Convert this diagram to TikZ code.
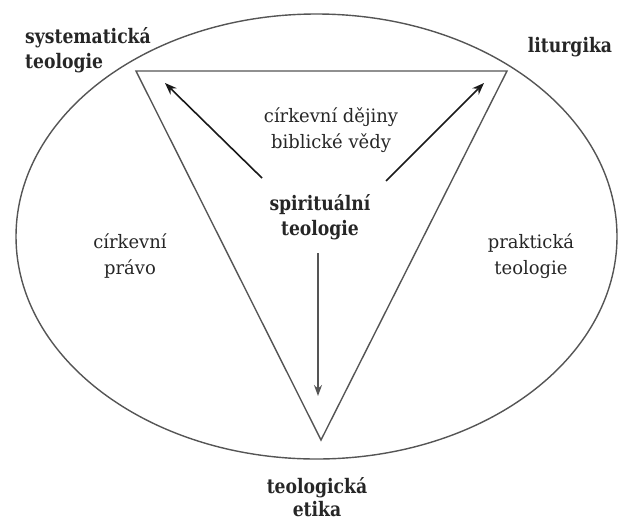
\documentclass[tikz,border=0pt]{standalone}
\usepackage{fontspec}
\setmainfont{DejaVu Serif}[FakeStretch=0.86]
\newfontfamily\regfont{DejaVu Serif}[FakeStretch=0.97]
\usetikzlibrary{arrows.meta}
\definecolor{lineg}{HTML}{555555}
\definecolor{txt}{HTML}{262626}
\tikzset{
  shapeline/.style={draw=lineg, line width=1.4pt},
  arr/.style={draw=black!90, line width=1.6pt, -{Stealth[length=12pt,width=9pt]}},
  lbl/.style={text=txt, font=\regfont\fontsize{18.5}{26.5}\selectfont, align=center, inner sep=0pt},
  blbl/.style={text=txt, font=\fontsize{20}{25}\selectfont\bfseries, align=center, inner sep=0pt},
}
\begin{document}
\begin{tikzpicture}[x=1pt,y=-1pt]
\useasboundingbox (0,0) rectangle (623,520);
% ellipse
\draw[shapeline] (316.5,236.5) ellipse [x radius=300.5pt, y radius=222.5pt];
% triangle
\coordinate (tl) at (136,71);
\coordinate (tr) at (507,71);
\coordinate (bt) at (321,440);
\draw[shapeline, line join=miter] (tl) -- (tr) -- (bt) -- cycle;
% texts
\node[blbl, align=left, anchor=west] (syst) at (25,50) {systematická\\teologie};
\node[blbl] (litu) at (570,47) {liturgika};
\node[lbl] (dej) at (331,130) {církevní dějiny\\biblické vědy};
\node[blbl] (spir) at (320,217) {spirituální\\teologie};
\node[lbl] (prav) at (130,256) {církevní\\právo};
\node[lbl] (prak) at (531,256) {praktická\\teologie};
\node[blbl, font=\fontsize{20}{23}\selectfont\bfseries] (etik) at (317,497) {teologická\\etika};
% arrows
\coordinate (a1s) at (262,178);
\coordinate (a1e) at (165,83);
\coordinate (a2s) at (386,181);
\coordinate (a2e) at (484,83);
\coordinate (a3s) at (318,253);
\coordinate (a3e) at (318,396);
\draw[arr] (a1s) -- (a1e);
\draw[arr] (a2s) -- (a2e);
\draw[arr, draw=lineg, line width=1.4pt, -{Stealth[length=11pt,width=8pt]}] (a3s) -- (a3e);
\end{tikzpicture}
\end{document}
